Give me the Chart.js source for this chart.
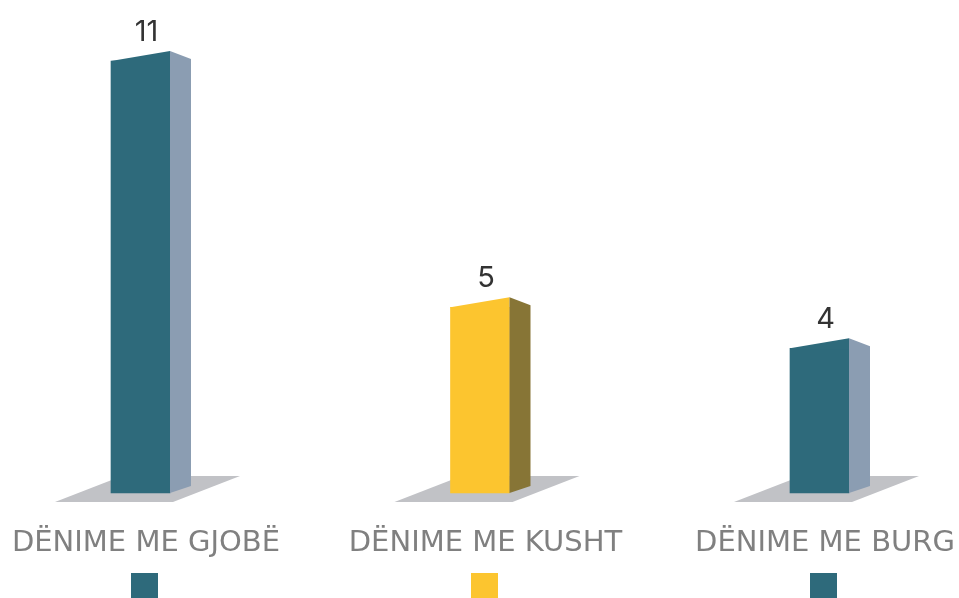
<!DOCTYPE html>
<html><head><meta charset="utf-8">
<script src="https://cdn.jsdelivr.net/npm/chart.js@4/dist/chart.umd.min.js"></script>
<style>html,body{margin:0;padding:0;background:#fff}#wrap{width:959px;height:598px;position:relative}</style>
</head><body><div id="wrap"><canvas id="c"></canvas></div>
<script>
const categories = ['DËNIME ME GJOBË', 'DËNIME ME KUSHT', 'DËNIME ME BURG'];
const values = [11, 5, 4];
const frontColors = ['#2e6a7b', '#fcc52f', '#2e6a7b'];
const sideColors = ['#8b9db2', '#877536', '#8b9db2'];
const floorColor = '#c1c2c6';
const yMin = 0.475;
const yMax = 12;

const depthPlugin = {
  id: 'depth',
  beforeDatasetsDraw(chart) {
    const ctx = chart.ctx;
    chart.getDatasetMeta(0).data.forEach((bar) => {
      const l = bar.x - bar.width / 2, b = bar.base;
      ctx.save();
      ctx.fillStyle = floorColor;
      ctx.beginPath();
      ctx.moveTo(l - 56, b + 9);
      ctx.lineTo(l + 62, b + 9);
      ctx.lineTo(l + 129, b - 17);
      ctx.lineTo(l + 11, b - 17);
      ctx.closePath();
      ctx.fill();
      ctx.restore();
    });
  },
  afterDatasetsDraw(chart) {
    const ctx = chart.ctx;
    chart.getDatasetMeta(0).data.forEach((bar, i) => {
      const l = bar.x - bar.width / 2, r = bar.x + bar.width / 2, t = bar.y, b = bar.base;
      ctx.save();
      ctx.fillStyle = frontColors[i];
      ctx.beginPath();
      ctx.moveTo(l, t + 1);
      ctx.lineTo(l, t);
      ctx.lineTo(r, t - 10);
      ctx.lineTo(r, t + 1);
      ctx.closePath();
      ctx.fill();
      ctx.fillStyle = sideColors[i];
      ctx.beginPath();
      ctx.moveTo(r, t - 10);
      ctx.lineTo(r + 21, t - 2);
      ctx.lineTo(r + 21, b - 7);
      ctx.lineTo(r, b);
      ctx.closePath();
      ctx.fill();
      ctx.fillStyle = '#333333';
      ctx.font = '29px Inter';
      ctx.textAlign = 'center';
      ctx.textBaseline = 'alphabetic';
      ctx.fillText(String(values[i]), bar.x + 6, t - 20);
      ctx.restore();
    });
  },
  afterDraw(chart) {
    const ctx = chart.ctx;
    chart.getDatasetMeta(0).data.forEach((bar, i) => {
      ctx.save();
      ctx.fillStyle = frontColors[i];
      ctx.fillRect(Math.round(bar.x + 4 - 13.5), 573, 27, 27);
      ctx.restore();
    });
  }
};

new Chart(document.getElementById('c'), {
  type: 'bar',
  data: {
    labels: categories,
    datasets: [{
      data: values,
      base: yMin,
      backgroundColor: frontColors,
      borderWidth: 0,
      barThickness: 59,
      clip: false
    }]
  },
  options: {
    responsive: true,
    maintainAspectRatio: false,
    animation: false,
    devicePixelRatio: 1,
    layout: { padding: { left: 140.5, right: 139.5, top: 20, bottom: 0 } },
    plugins: { legend: { display: false }, tooltip: { enabled: false } },
    scales: {
      x: {
        offset: false,
        grid: { display: false, drawTicks: false },
        border: { display: false },
        ticks: {
          color: '#808080',
          font: { family: 'DejaVu Sans', size: 29, lineHeight: 1.2 },
          padding: 33,
          labelOffset: 5.5,
          maxRotation: 0,
          minRotation: 0,
          autoSkip: false
        },
        afterFit(scale) {
          scale.paddingLeft = 0;
          scale.paddingRight = 0;
          scale.height = 105;
        }
      },
      y: {
        display: false,
        beginAtZero: false,
        min: yMin,
        max: yMax
      }
    }
  },
  plugins: [depthPlugin]
});
</script>
</body></html>
